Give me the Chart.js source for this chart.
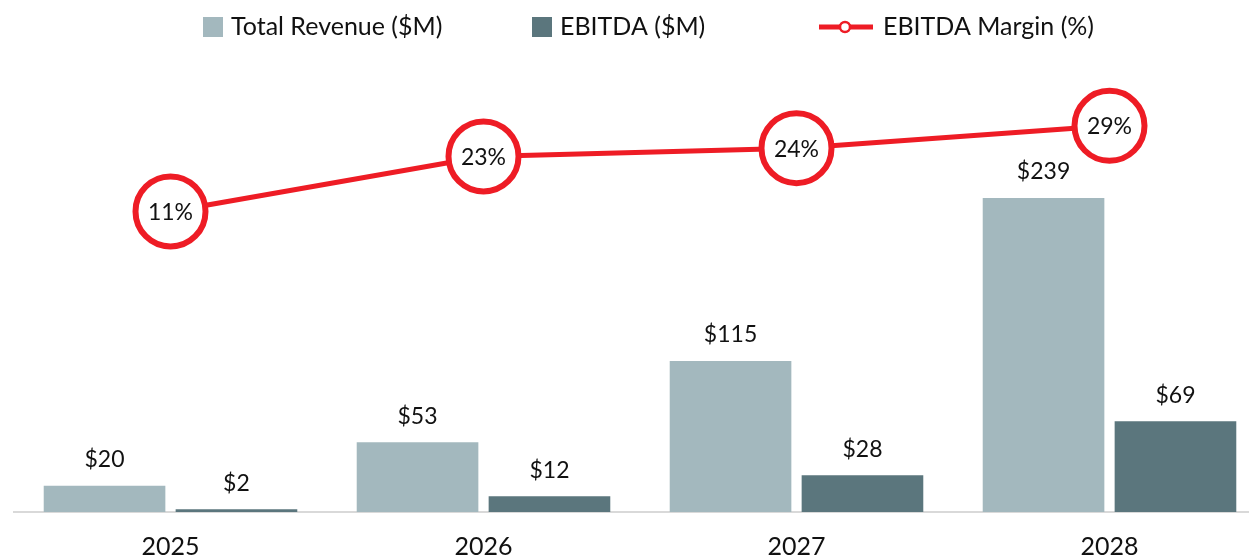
<!DOCTYPE html>
<html>
<head>
<meta charset="utf-8">
<script src="https://cdn.jsdelivr.net/npm/chart.js@4.4.1/dist/chart.umd.min.js"></script>
<style>
  html, body { margin: 0; padding: 0; overflow: hidden; background: #fff; }
  /* the big margin circles force ~41px of padding, so the canvas is shifted left */
  #wrap { position: absolute; left: -27px; top: 0; width: 1334px; height: 582px; }
</style>
</head>
<body>
<div id="wrap"><canvas id="chart"></canvas></div>
<script>
// chart values
const years = ['2025', '2026', '2027', '2028'];
const revenue = [20, 53, 115, 239];      // Total Revenue ($M)
const ebitda = [2, 12, 28, 69];          // EBITDA ($M)
const margin = [11.3, 22.6, 24.3, 28.9]; // EBITDA Margin (%)

const FONT = 'Lato';
const RED = '#EE1C25';
const SHIFT = 27; // wrap offset, canvas x = page x + SHIFT

// legend starting x (page) for each dataset
const legendX = [203, 532, 819];

const valueLabels = {
  id: 'valueLabels',
  afterDatasetsDraw(chart) {
    const ctx = chart.ctx;
    ctx.save();
    ctx.fillStyle = '#111';
    ctx.font = '23px ' + FONT;
    ctx.textAlign = 'center';
    ctx.textBaseline = 'middle';
    chart.data.datasets.forEach((ds, i) => {
      const meta = chart.getDatasetMeta(i);
      meta.data.forEach((el, j) => {
        if (ds.type === 'line') {
          ctx.fillText(Math.round(ds.data[j]) + '%', el.x, el.y + 1);
        } else {
          ctx.fillText('$' + ds.data[j], el.x, el.y - 26);
        }
      });
    });
    ctx.restore();
  }
};

const topLegend = {
  id: 'topLegend',
  afterDraw(chart) {
    const ctx = chart.ctx;
    const y = 27;
    ctx.save();
    ctx.font = '25px ' + FONT;
    ctx.textBaseline = 'middle';
    ctx.textAlign = 'left';
    chart.data.datasets.forEach((ds, i) => {
      const x = legendX[i] + SHIFT;
      if (ds.type === 'line') {
        ctx.strokeStyle = ds.borderColor;
        ctx.lineWidth = 5;
        ctx.beginPath();
        ctx.moveTo(x, y);
        ctx.lineTo(x + 54, y);
        ctx.stroke();
        ctx.beginPath();
        ctx.arc(x + 26, y, 5, 0, Math.PI * 2);
        ctx.fillStyle = '#fff';
        ctx.fill();
        ctx.lineWidth = 2.5;
        ctx.stroke();
        ctx.fillStyle = '#111';
        ctx.fillText(ds.label, x + 64, y);
      } else {
        ctx.fillStyle = ds.backgroundColor;
        ctx.fillRect(x, y - 10, 20, 20);
        ctx.fillStyle = '#111';
        ctx.fillText(ds.label, x + 28, y);
      }
    });
    ctx.restore();
  }
};

new Chart(document.getElementById('chart').getContext('2d'), {
  type: 'bar',
  data: {
    labels: years,
    datasets: [
      {
        label: 'Total Revenue ($M)',
        data: revenue,
        backgroundColor: '#A3B8BE',
        yAxisID: 'y',
        order: 1
      },
      {
        label: 'EBITDA ($M)',
        data: ebitda,
        backgroundColor: '#5B767D',
        yAxisID: 'y',
        order: 1
      },
      {
        type: 'line',
        label: 'EBITDA Margin (%)',
        data: margin,
        yAxisID: 'y2',
        borderColor: RED,
        borderWidth: 5,
        pointRadius: 35,
        pointBorderWidth: 6,
        pointBackgroundColor: '#fff',
        pointBorderColor: RED,
        tension: 0,
        clip: false,
        order: 0
      }
    ]
  },
  options: {
    responsive: true,
    maintainAspectRatio: false,
    animation: false,
    categoryPercentage: 0.843,
    barPercentage: 0.922,
    layout: { padding: { top: 60, left: 41, right: 41, bottom: 0 } },
    plugins: {
      legend: { display: false },
      tooltip: { enabled: false }
    },
    scales: {
      x: {
        grid: { display: false, drawTicks: false },
        border: { display: true, color: '#D9D9D9', width: 2 },
        ticks: {
          color: '#111',
          font: { family: FONT, size: 25 },
          padding: 20
        }
      },
      y: { display: false, min: 0, max: 344 },
      y2: { display: false, min: -50.4, max: 42.4 }
    }
  },
  plugins: [valueLabels, topLegend]
});
</script>
</body>
</html>
